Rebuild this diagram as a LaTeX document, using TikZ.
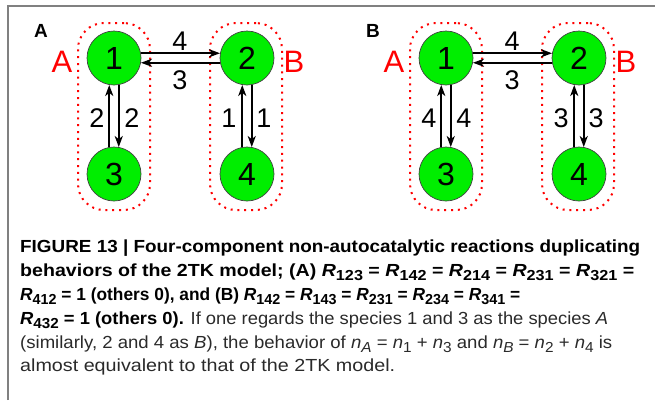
\documentclass[tikz,border=0pt]{standalone}
\usepackage{fontspec}
\usepackage{graphicx}
\setmainfont{Liberation Sans}
\newfontfamily\capfont{Liberation Sans}
\usetikzlibrary{arrows.meta}
\definecolor{nodegreen}{HTML}{00EE00}
\definecolor{captxt}{HTML}{2A2A2A}
\newcommand\Rsub[1]{\textit{R}\raisebox{-0.45ex}{\fontsize{14.5}{14.5}\selectfont #1}}
\newcommand\nsub[1]{\textit{n}\raisebox{-0.45ex}{\fontsize{14.5}{14.5}\selectfont #1}}
\newcommand\fitw[2]{\resizebox{#1}{\height}{#2}}
\newcommand\drawpanel[4]{%
  \node[panellab] (#1lbl) at (41,31) {#2};
  \node[grp] (#1gA) at (114,116.5) {};
  \node[grp] (#1gB) at (246,116.5) {};
  \node[circ] (#1n1) at (114,58) {1};
  \node[circ] (#1n2) at (247,58) {2};
  \node[circ] (#1n3) at (114,174) {3};
  \node[circ] (#1n4) at (247,174) {4};
  \node[grplab] (#1la) at (62,62) {A};
  \node[grplab] (#1lb) at (294,62) {B};
  \draw[arr] (#1n1.10) -- (#1n2.170);
  \draw[arr] (#1n2.190) -- (#1n1.350);
  \node[lab] (#1l12) at (180,41) {4};
  \node[lab] (#1l21) at (180,80) {3};
  \draw[arr] (#1n3.100) -- (#1n1.260);
  \draw[arr] (#1n1.280) -- (#1n3.80);
  \node[lab] (#1l31) at (97,118) {#3};
  \node[lab] (#1l13) at (132,118) {#3};
  \draw[arr] (#1n4.100) -- (#1n2.260);
  \draw[arr] (#1n2.280) -- (#1n4.80);
  \node[lab] (#1l42) at (229,118) {#4};
  \node[lab] (#1l24) at (264,118) {#4};
}
\begin{document}
\begin{tikzpicture}[x=1pt,y=-1pt,
  circ/.style={circle, draw=black!75, line width=0.7pt, fill=nodegreen, minimum size=54pt, inner sep=0pt, font=\fontsize{32}{32}\selectfont},
  grp/.style={draw=red, line width=2pt, dash pattern=on 2pt off 4.8pt, rounded corners=26pt, minimum width=72pt, minimum height=187pt, inner sep=0pt},
  arr/.style={-{Stealth[length=11pt,width=8pt,inset=3pt]}, line width=1.8pt},
  lab/.style={font=\fontsize{27}{27}\selectfont, inner sep=0pt},
  grplab/.style={text=red, font=\fontsize{31}{31}\selectfont, inner sep=0pt},
  panellab/.style={font=\bfseries\fontsize{19}{19}\selectfont, inner sep=0pt},
  capline/.style={anchor=base west, inner sep=0pt, font=\capfont\fontsize{17.5}{17.5}\selectfont}]
\useasboundingbox (0,0) rectangle (655,400);
\draw[gray, line width=1.2pt] (8,400) -- (8,6) -- (655,6);
\drawpanel{a}{A}{2}{1}
\begin{scope}[xshift=332pt]
\drawpanel{b}{B}{4}{3}
\end{scope}
\node[capline] (c1) at (20,252) {\fitw{620pt}{\bfseries FIGURE 13 | Four-component non-autocatalytic reactions duplicating}};
\node[capline] (c2) at (20,276) {\fitw{614pt}{\bfseries behaviors of the 2TK model; (A) \Rsub{123} = \Rsub{142} = \Rsub{214} = \Rsub{231} = \Rsub{321} =}};
\node[capline] (c3) at (20,300) {\fitw{500pt}{\bfseries \Rsub{412} = 1 (others 0), and (B) \Rsub{142} = \Rsub{143} = \Rsub{231} = \Rsub{234} = \Rsub{341} =}};
\node[capline] (c4) at (20,324) {\fitw{588pt}{\textbf{\Rsub{432} = 1 (others 0).} \textcolor{captxt}{If one regards the species 1 and 3 as the species \textit{A}}}};
\node[capline, text=captxt] (c5) at (20,348) {\fitw{592pt}{(similarly, 2 and 4 as \textit{B}), the behavior of \nsub{\textit{A}} = \nsub{1} + \nsub{3} and \nsub{\textit{B}} = \nsub{2} + \nsub{4} is}};
\node[capline, text=captxt] (c6) at (20,371) {\fitw{375pt}{almost equivalent to that of the 2TK model.}};
\end{tikzpicture}
\end{document}
